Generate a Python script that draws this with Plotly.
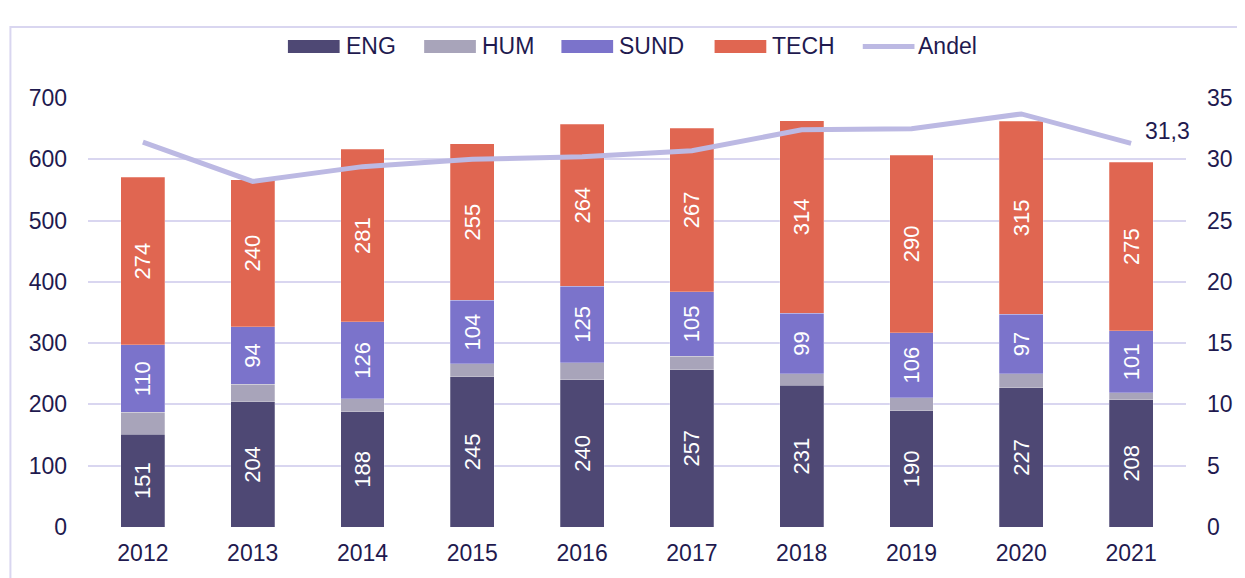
import plotly.graph_objects as go

years = ["2012", "2013", "2014", "2015", "2016", "2017", "2018", "2019", "2020", "2021"]
eng = [151, 204, 188, 245, 240, 257, 231, 190, 227, 208]
hum = [36, 29, 21, 21, 28, 22, 19, 21, 23, 11]
sund = [110, 94, 126, 104, 125, 105, 99, 106, 97, 101]
tech = [274, 240, 281, 255, 264, 267, 314, 290, 315, 275]
andel = [31.4, 28.2, 29.4, 30.0, 30.2, 30.7, 32.4, 32.5, 33.7, 31.3]

series_names = ["ENG", "HUM", "SUND", "TECH", "Andel"]
colors = {"ENG": "#4E4874", "HUM": "#A8A4BA", "SUND": "#7B73CB", "TECH": "#E06651", "Andel": "#BCB9E3"}

TXT = "#1F1A4F"
FONT = "Liberation Sans, Arial, sans-serif"
FS = 23

# plot area in page pixels (used to place legend / frame in paper coords)
PX0, PX1, PY0, PY1 = 88, 1192, 98, 527
def px(x):
    return (x - PX0) / (PX1 - PX0)
def py(y):
    return (PY1 - y) / (PY1 - PY0)

fig = go.Figure()

def bar(name, vals, label=True):
    fig.add_trace(go.Bar(
        name=name, x=years, y=vals,
        marker=dict(color=colors[name], line=dict(color="rgba(255,255,255,0.5)", width=0.5)),
        text=[str(v) for v in vals] if label else None,
        texttemplate="%{text}" if label else None,
        textposition="inside" if label else "none",
        insidetextanchor="middle",
        textangle=-90,
        textfont=dict(color="white", size=22, family=FONT),
        hoverinfo="skip", showlegend=False,
    ))

bar("ENG", eng)
bar("HUM", hum, label=False)
bar("SUND", sund)
bar("TECH", tech)

fig.add_trace(go.Scatter(
    name="Andel", x=years, y=andel, yaxis="y2",
    mode="lines",
    line=dict(color=colors["Andel"], width=5),
    showlegend=False, cliponaxis=False,
))

# Legend (manual, to reproduce wide legend keys)
leg_x = {"ENG": 289, "HUM": 426, "SUND": 564, "TECH": 718, "Andel": 865}
key_w = 52
shapes = [dict(type="rect", xref="paper", yref="paper",
               x0=px(10), x1=px(1260), y0=py(600), y1=py(27),
               line=dict(color="#D9D6F0", width=2), fillcolor="rgba(0,0,0,0)", layer="below")]
annotations = []
for n in series_names:
    x0 = leg_x[n]
    if n == "Andel":
        shapes.append(dict(type="line", xref="paper", yref="paper",
                           x0=px(x0 + 2), x1=px(x0 + key_w + 2), y0=py(46.5), y1=py(46.5),
                           line=dict(color=colors[n], width=5)))
    else:
        shapes.append(dict(type="rect", xref="paper", yref="paper",
                           x0=px(x0), x1=px(x0 + key_w), y0=py(53), y1=py(40),
                           line=dict(width=0), fillcolor=colors[n]))
    annotations.append(dict(xref="paper", yref="paper", x=px(x0 + key_w + 4), y=py(46.5),
                            xanchor="left", yanchor="middle", showarrow=False,
                            text=n, font=dict(size=FS, color=TXT, family=FONT)))

last = len(years) - 1
annotations.append(dict(xref="x", yref="y2", x=last, y=andel[last],
                        xanchor="left", yanchor="middle", xshift=12, yshift=12,
                        showarrow=False, text=f"{andel[last]:.1f}".replace(".", ","),
                        font=dict(size=FS, color=TXT, family=FONT)))

fig.update_layout(
    width=1237, height=570,
    margin=dict(l=80, r=53, t=90, b=51),
    paper_bgcolor="white", plot_bgcolor="white",
    barmode="stack", bargap=0.6,
    font=dict(family=FONT, color=TXT, size=FS),
    showlegend=False,
    xaxis=dict(type="category", range=[-0.5, len(years) - 0.5], showgrid=False,
               tickfont=dict(size=FS, color=TXT), ticks="",
               showline=False, ticklabelstandoff=10),
    yaxis=dict(range=[0, 700], dtick=100, gridcolor="#D9D6F0", gridwidth=2,
               tickfont=dict(size=FS, color=TXT), zeroline=False, ticklabelstandoff=20),
    yaxis2=dict(range=[0, 35], dtick=5, overlaying="y", side="right", showgrid=False,
                tickfont=dict(size=FS, color=TXT), zeroline=False, ticklabelstandoff=20),
    shapes=shapes,
    annotations=annotations,
)

fig.write_html("out.html")
